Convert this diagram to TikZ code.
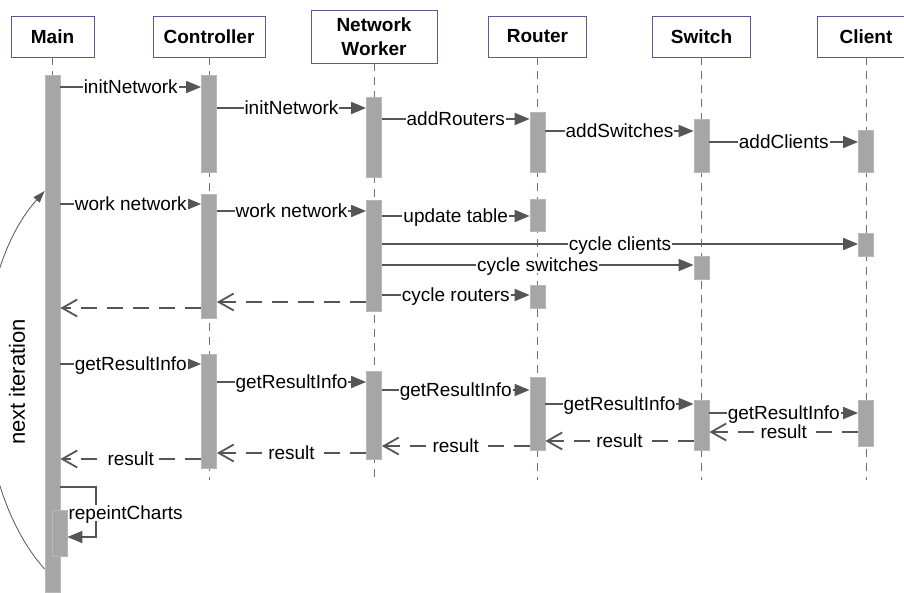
\documentclass[tikz,border=0pt]{standalone}
\usepackage{fontspec}
\setmainfont{Liberation Sans}
\usepackage{tikz}
\usetikzlibrary{arrows.meta}
\usetikzlibrary{positioning}
\usepackage{xcolor}
\definecolor{boxline}{HTML}{5E5794}
\definecolor{lifecol}{HTML}{6E6C9E}
\definecolor{barfill}{HTML}{A6A6A6}
\definecolor{barline}{HTML}{B8B8B8}
\definecolor{msgcol}{HTML}{555555}

\begin{document}
\begin{tikzpicture}[
        x=1pt, y=-1pt,
        onode/.style={rectangle, draw=boxline, fill=white, line width=0.9pt, minimum height=41pt, inner sep=0pt, align=center, font=\bfseries\fontsize{19}{24}\selectfont},
        abar/.style={rectangle, draw=barline, fill=barfill, line width=0.8pt, minimum width=15pt, inner sep=0pt, anchor=north},
        life/.style={draw=lifecol, line width=1pt, dash pattern=on 8pt off 6pt},
        call/.style={draw=msgcol, line width=1.8pt, -{Triangle[length=15pt,width=12pt]}},
        back/.style={draw=msgcol, line width=1.8pt, dash pattern=on 16pt off 10pt, -{Straight Barb[length=15pt,width=17pt]}},
        lbl/.style={fill=white, inner xsep=1pt, inner ysep=1pt, text height=13.6pt, text depth=0pt, font=\fontsize{19}{21}\selectfont}
    ]
        \useasboundingbox (0,0) rectangle (904,592);

        \node[onode, minimum width=83pt] (M) at (52.5,36.5) {Main};
        \node[onode, minimum width=112pt] (C) at (209,36.5) {Controller};
        \node[onode, minimum width=126pt, minimum height=53pt] (W) at (374,36.5) {Network\\Worker};
        \node[onode, minimum width=98pt] (R) at (537.5,36.5) {Router};
        \node[onode, minimum width=98pt] (S) at (701.5,36.5) {Switch};
        \node[onode, minimum width=98pt] (K) at (866,36.5) {Client};

        \foreach \o in {M,C,W,R,S,K}
            \draw[life] (\o.south) -- (\o.south |- 0,480);

        \node[abar, minimum height=517pt] (M1) at (M |- 0,75) {};
        \node[abar, minimum height=97pt] (C1) at (C |- 0,75) {};
        \node[abar, minimum height=124pt] (C2) at (C |- 0,194) {};
        \node[abar, minimum height=114pt] (C3) at (C |- 0,354) {};
        \node[abar, minimum height=80pt] (W1) at (W |- 0,97) {};
        \node[abar, minimum height=111pt] (W2) at (W |- 0,200) {};
        \node[abar, minimum height=88pt] (W3) at (W |- 0,371) {};
        \node[abar, minimum height=60pt] (R1) at (R |- 0,112) {};
        \node[abar, minimum height=32pt] (R2) at (R |- 0,199) {};
        \node[abar, minimum height=23pt] (R3) at (R |- 0,285) {};
        \node[abar, minimum height=73pt] (R4) at (R |- 0,377) {};
        \node[abar, minimum height=53pt] (S1) at (S |- 0,119) {};
        \node[abar, minimum height=23pt] (S2) at (S |- 0,256) {};
        \node[abar, minimum height=50pt] (S3) at (S |- 0,400) {};
        \node[abar, minimum height=42pt] (K1) at (K |- 0,130) {};
        \node[abar, minimum height=23pt] (K2) at (K |- 0,233) {};
        \node[abar, minimum height=46pt] (K3) at (K |- 0,400) {};
        \node[abar, minimum height=46pt] (M2) at (59.5,510) {};

        \path (M1.east |- 0,87) edge[call] node[lbl] {initNetwork} (C1.west |- 0,87)
            (C1.east |- 0,108) edge[call] node[lbl] {initNetwork} (W1.west |- 0,108)
            (W1.east |- 0,119) edge[call] node[lbl] {addRouters} (R1.west |- 0,119)
            (R1.east |- 0,131) edge[call] node[lbl] {addSwitches} (S1.west |- 0,131)
            (S1.east |- 0,142) edge[call] node[lbl] {addClients} (K1.west |- 0,142);

        \path (M1.east |- 0,204) edge[call] node[lbl] {work network} (C2.west |- 0,204)
            (C2.east |- 0,211) edge[call] node[lbl] {work network} (W2.west |- 0,211)
            (W2.east |- 0,216) edge[call] node[lbl] {update table} (R2.west |- 0,216)
            (W2.east |- 0,244) edge[call] node[lbl] {cycle clients} (K2.west |- 0,244)
            (W2.east |- 0,265) edge[call] node[lbl] {cycle switches} (S2.west |- 0,265)
            (W2.east |- 0,295) edge[call] node[lbl] {cycle routers} (R3.west |- 0,295)
            (W2.west |- 0,302) edge[back] (C2.east |- 0,302)
            (C2.west |- 0,308) edge[back] (M1.east |- 0,308);

        \path (M1.east |- 0,364) edge[call] node[lbl] {getResultInfo} (C3.west |- 0,364)
            (C3.east |- 0,382) edge[call] node[lbl] {getResultInfo} (W3.west |- 0,382)
            (W3.east |- 0,390) edge[call] node[lbl] {getResultInfo} (R4.west |- 0,390)
            (R4.east |- 0,404) edge[call] node[lbl] {getResultInfo} (S3.west |- 0,404)
            (S3.east |- 0,413) edge[call] node[lbl] {getResultInfo} (K3.west |- 0,413)
            (K3.west |- 0,432) edge[back] node[lbl] {result} (S3.east |- 0,432)
            (S3.west |- 0,441) edge[back] node[lbl] {result} (R4.east |- 0,441)
            (R4.west |- 0,446) edge[back] node[lbl] {result} (W3.east |- 0,446)
            (W3.west |- 0,453) edge[back] node[lbl] {result} (C3.east |- 0,453)
            (C3.west |- 0,459) edge[back] node[lbl] {result} (M1.east |- 0,459);

        \draw[call] (M1.east |- 0,487) -- (96,487) -- (96,537) -- (M2.east |- 0,537);
        \node[lbl, anchor=west] (rc) at (M2.east |- 0,513) {repeintCharts};

        \draw[draw=msgcol, line width=0.8pt, -{Triangle[length=12pt,width=8pt]}] (M1.west |- 0,569) .. controls (-35,480) and (-35,280) .. (M1.west |- 0,191);
        \node[rotate=90, font=\fontsize{22}{26}\selectfont] (it) at (17,382) {next iteration};
    \end{tikzpicture}
\end{document}
